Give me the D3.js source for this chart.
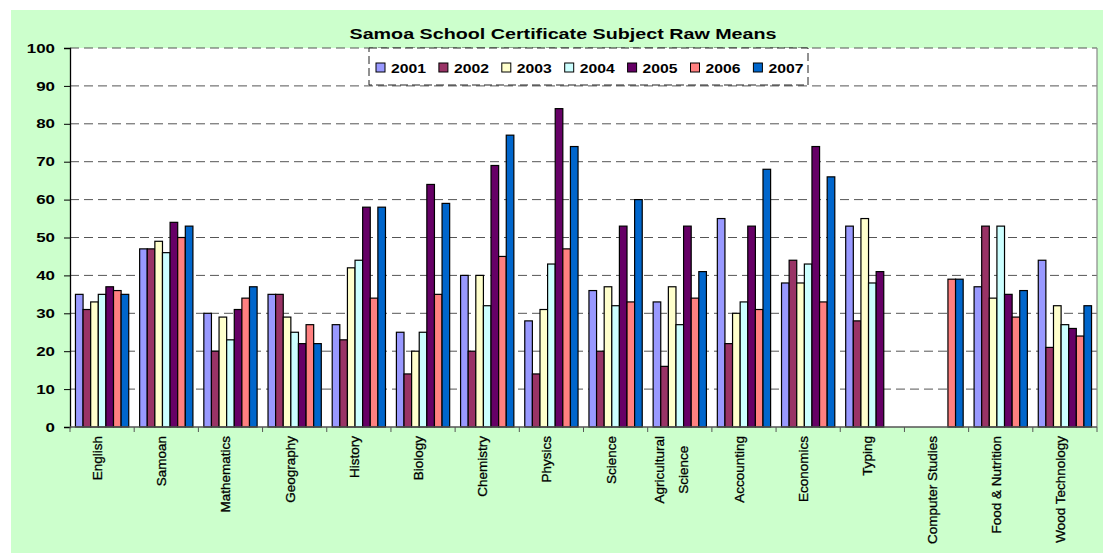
<!DOCTYPE html>
<html>
<head>
<meta charset="utf-8">
<script src="https://cdn.jsdelivr.net/npm/d3@7"></script>
<style>
  body { margin: 0; background: #fff; }
  text { font-family: Arial, "Liberation Sans", sans-serif; }
</style>
</head>
<body>
<svg id="chart" width="1103" height="553"></svg>
<script>
// subjects and yearly raw means
var subjects = ["English", "Samoan", "Mathematics", "Geography", "History", "Biology",
  "Chemistry", "Physics", "Science", "Agricultural\nScience", "Accounting", "Economics",
  "Typing", "Computer Studies", "Food & Nutrition", "Wood Technology"]
var years = ["2001", "2002", "2003", "2004", "2005", "2006", "2007"]
var colors = ["#9999FF", "#993366", "#FFFFCC", "#CCFFFF", "#660066", "#FF8080", "#0066CC"]

var y2001 = [35, 47, 30, 35, 27, 25, 40, 28, 36, 33, 55, 38, 53, null, 37, 44]
var y2002 = [31, 47, 20, 35, 23, 14, 20, 14, 20, 16, 22, 44, 28, null, 53, 21]
var y2003 = [33, 49, 29, 29, 42, 20, 40, 31, 37, 37, 30, 38, 55, null, 34, 32]
var y2004 = [35, 46, 23, 25, 44, 25, 32, 43, 32, 27, 33, 43, 38, null, 53, 27]
var y2005 = [37, 54, 31, 22, 58, 64, 69, 84, 53, 53, 53, 74, 41, null, 35, 26]
var y2006 = [36, 50, 34, 27, 34, 35, 45, 47, 33, 34, 31, 33, null, 39, 29, 24]
var y2007 = [35, 53, 37, 22, 58, 59, 77, 74, 60, 41, 68, 66, null, 39, 36, 32]
var series = [y2001, y2002, y2003, y2004, y2005, y2006, y2007]

var yTicks = [0, 10, 20, 30, 40, 50, 60, 70, 80, 90, 100]

var svg = d3.select("#chart")
var pLeft = 70, pRight = 1097, pTop = 48, pBottom = 427

// green chart area
svg.append("rect").attr("x", 11).attr("y", 10).attr("width", 1092).attr("height", 543)
  .attr("fill", "#CCFFCC")
// plot area
svg.append("rect").attr("x", pLeft).attr("y", pTop).attr("width", pRight - pLeft).attr("height", pBottom - pTop)
  .attr("fill", "#fff")

var x0 = d3.scaleBand().domain(d3.range(subjects.length)).range([pLeft, pRight])
  .paddingInner(0.17).paddingOuter(0.085)
var x1 = d3.scaleBand().domain(d3.range(years.length)).range([0, x0.bandwidth()])
var y = d3.scaleLinear().domain([0, 100]).range([pBottom, pTop])
var step = (pRight - pLeft) / subjects.length

// gridlines
svg.append("g").selectAll("line").data(yTicks.slice(1)).join("line")
  .attr("x1", pLeft).attr("x2", pRight)
  .attr("y1", function(d){ return y(d) }).attr("y2", function(d){ return y(d) })
  .attr("stroke", "#555").attr("stroke-width", 1).attr("stroke-dasharray", "9,5")

// right border
svg.append("line").attr("x1", pRight).attr("x2", pRight).attr("y1", pTop).attr("y2", pBottom)
  .attr("stroke", "#888").attr("stroke-width", 1.2)

// bars
var cells = []
series.forEach(function(s, si){
  s.forEach(function(v, ci){
    if (v != null) cells.push({ci: ci, si: si, v: v})
  })
})
svg.append("g").selectAll("rect").data(cells).join("rect")
  .attr("x", function(d){ return x0(d.ci) + x1(d.si) })
  .attr("width", x1.bandwidth())
  .attr("y", function(d){ return y(d.v) })
  .attr("height", function(d){ return y(0) - y(d.v) })
  .attr("fill", function(d){ return colors[d.si] })
  .attr("stroke", "#000").attr("stroke-width", 1.2)

// y axis
var yAxis = svg.append("g").attr("transform", "translate(" + pLeft + ",0)")
  .call(d3.axisLeft(y).tickValues(yTicks).tickSize(6).tickPadding(9))
yAxis.select(".domain").attr("stroke", "#000").attr("stroke-width", 1.3)
yAxis.selectAll(".tick line").attr("stroke", "#000")
yAxis.selectAll("text").attr("font-size", 13).attr("font-weight", "bold").attr("fill", "#000")
  .attr("font-family", "Arial, 'Liberation Sans', sans-serif")
  .each(function(){
    var w = this.getComputedTextLength()
    d3.select(this).attr("textLength", w * 1.3).attr("lengthAdjust", "spacingAndGlyphs")
  })

// x axis line and ticks at category boundaries
svg.append("line").attr("x1", pLeft).attr("x2", pRight).attr("y1", pBottom).attr("y2", pBottom)
  .attr("stroke", "#555").attr("stroke-width", 1.3)
svg.append("g").selectAll("line").data(d3.range(subjects.length + 1)).join("line")
  .attr("x1", function(d){ return pLeft + d * step }).attr("x2", function(d){ return pLeft + d * step })
  .attr("y1", pBottom).attr("y2", pBottom + 5)
  .attr("stroke", "#555")

// x labels, rotated
subjects.forEach(function(name, i){
  var cx = pLeft + (i + 0.5) * step
  var lines = name.split("\n")
  if (lines.length == 1) {
    svg.append("text")
      .attr("transform", "translate(" + cx + ",436) rotate(-90)")
      .attr("text-anchor", "end")
      .attr("font-size", 13.5)
      .attr("stroke", "#000").attr("stroke-width", 0.3)
      .text(name)
  } else {
    var g = svg.append("g")
    var texts = lines.map(function(l, li){
      return g.append("text").attr("font-size", 13.5).attr("text-anchor", "middle")
        .attr("stroke", "#000").attr("stroke-width", 0.3).text(l)
    })
    var maxW = d3.max(texts, function(t){ return t.node().getComputedTextLength() })
    var offs = [-16, 8]
    texts.forEach(function(t, li){
      t.attr("transform", "translate(" + (cx + offs[li]) + "," + (436 + maxW / 2) + ") rotate(-90)")
    })
  }
})

// title
svg.append("text").attr("x", 563).attr("y", 39).attr("text-anchor", "middle")
  .attr("font-size", 14).attr("font-weight", "bold")
  .attr("textLength", 427).attr("lengthAdjust", "spacingAndGlyphs")
  .text("Samoa School Certificate Subject Raw Means")

// legend
var lg = svg.append("g")
lg.append("rect").attr("x", 369).attr("y", 48).attr("width", 439).attr("height", 37)
  .attr("fill", "#fff").attr("stroke", "#222").attr("stroke-dasharray", "8,4")
var items = lg.selectAll("g").data(years).join("g")
  .attr("transform", function(d, i){ return "translate(" + (376 + i * 62.9) + ",0)" })
items.append("rect").attr("x", 0).attr("y", 63).attr("width", 9).attr("height", 9)
  .attr("fill", function(d, i){ return colors[i] }).attr("stroke", "#000")
items.append("text").attr("x", 15).attr("y", 72.5)
  .attr("font-size", 13).attr("font-weight", "bold")
  .attr("textLength", 35).attr("lengthAdjust", "spacingAndGlyphs")
  .text(function(d){ return d })
</script>
</body>
</html>
